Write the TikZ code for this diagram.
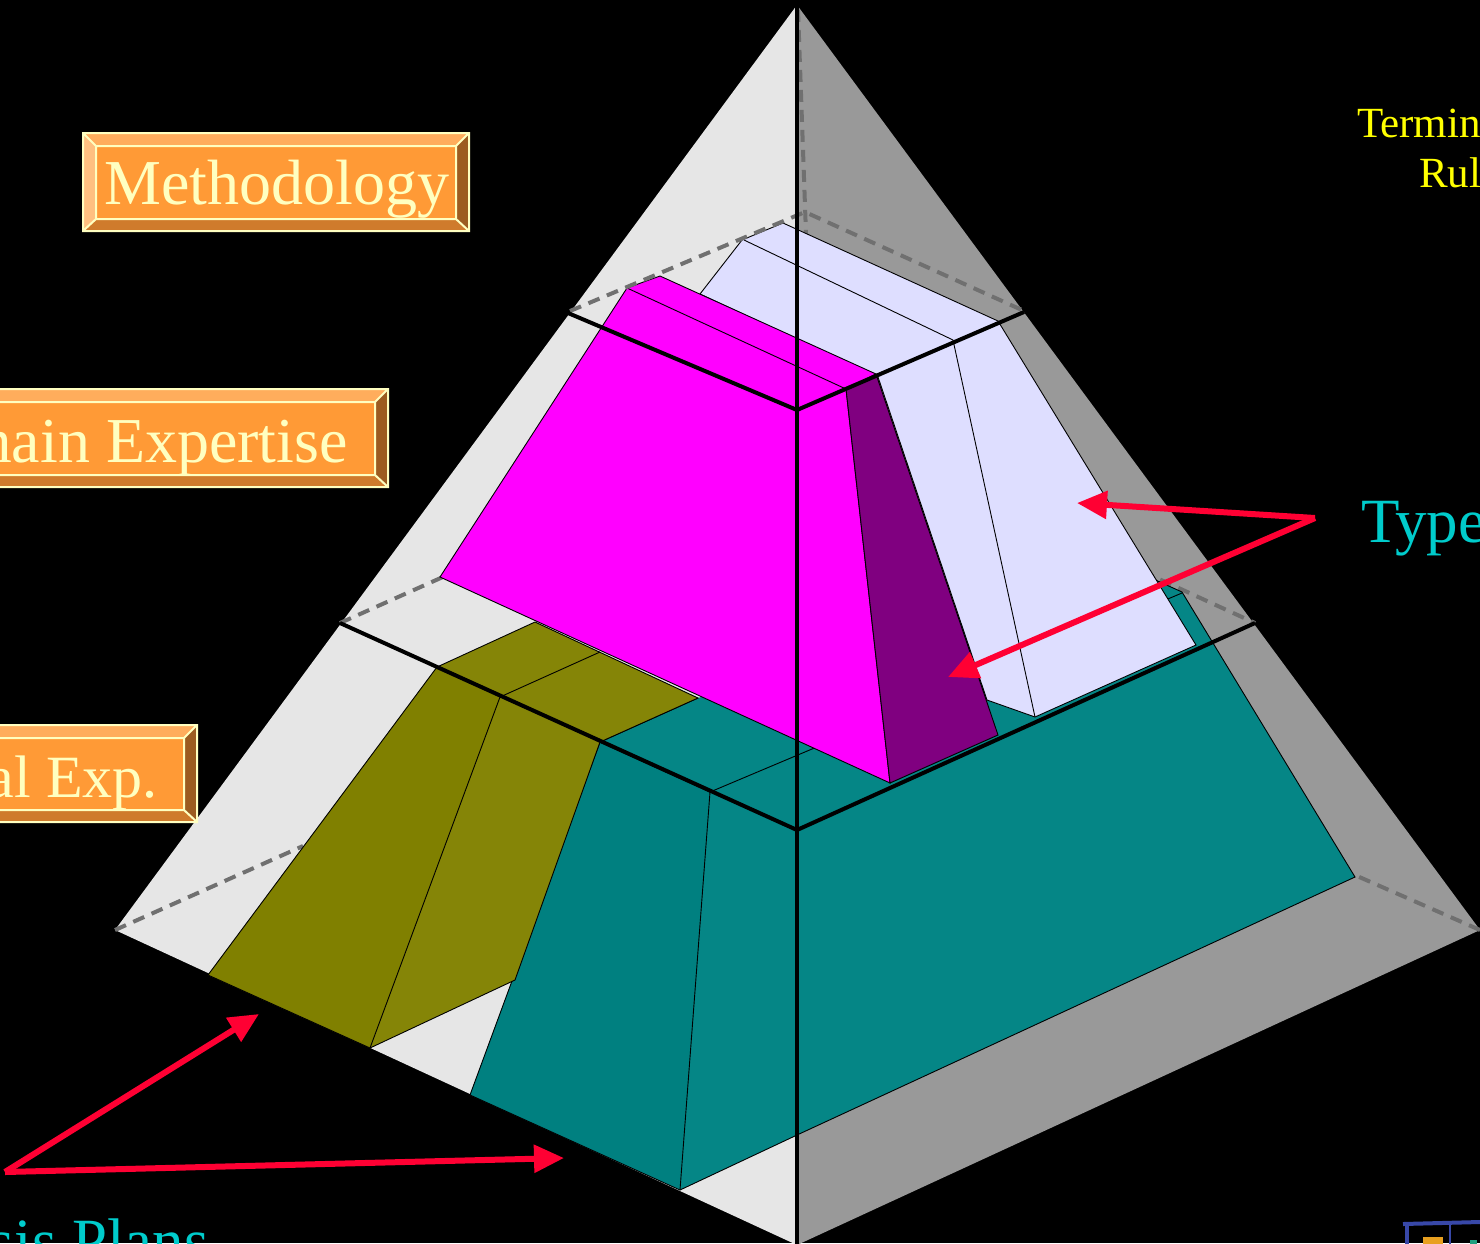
\documentclass[tikz,border=0pt]{standalone}
\usepackage{fontspec}
\setmainfont{Liberation Serif}
\usetikzlibrary{arrows.meta}
\definecolor{lface}{HTML}{E6E6E6}
\definecolor{rface}{HTML}{999999}
\definecolor{lav}{HTML}{DEDEFF}
\definecolor{mag}{HTML}{FF00FF}
\definecolor{pur}{HTML}{800080}
\definecolor{oli}{HTML}{808000}
\definecolor{olid}{HTML}{858507}
\definecolor{teala}{HTML}{008080}
\definecolor{teald}{HTML}{058686}
\definecolor{dashg}{HTML}{707070}
\definecolor{arrred}{HTML}{FF0033}
\definecolor{orface}{HTML}{FF9A36}
\definecolor{ortop}{HTML}{FFAD5C}
\definecolor{orleft}{HTML}{FFC080}
\definecolor{orright}{HTML}{9C5C20}
\definecolor{orbot}{HTML}{CF7B2C}
\definecolor{cream}{HTML}{FFFFC0}
\definecolor{cyantext}{HTML}{00CCCC}
\definecolor{yel}{HTML}{FFFF00}
\definecolor{logoblue}{HTML}{3848A8}
\definecolor{logoor}{HTML}{E8A020}
\definecolor{logotl}{HTML}{20A080}
\newcommand\bevelbox[4]{%
 \fill[ortop] (#1,#2) -- (#3,#2) -- ({#3-13},{#2+13}) -- ({#1+13},{#2+13}) -- cycle;
 \fill[orright] (#3,#2) -- (#3,#4) -- ({#3-13},{#4-12}) -- ({#3-13},{#2+13}) -- cycle;
 \fill[orbot] (#3,#4) -- (#1,#4) -- ({#1+13},{#4-12}) -- ({#3-13},{#4-12}) -- cycle;
 \fill[orleft] (#1,#4) -- (#1,#2) -- ({#1+13},{#2+13}) -- ({#1+13},{#4-12}) -- cycle;
 \fill[orface] ({#1+13},{#2+13}) rectangle ({#3-13},{#4-12});
 \draw[creamline] (#1,#2) rectangle (#3,#4) ({#1+13},{#2+13}) rectangle ({#3-13},{#4-12})
   (#1,#2) -- ++(13,13) (#3,#2) -- ++(-13,13) (#3,#4) -- ++(-13,-12) (#1,#4) -- ++(13,-12);
}
\begin{document}
\begin{tikzpicture}[x=1pt,y=-1pt,
  creamline/.style={draw=cream,line width=2pt},
  thin/.style={draw=black,line width=0.9pt},
  thickline/.style={draw=black,line width=4pt,line join=miter},
  hidden/.style={draw=dashg,line width=4pt,dash pattern=on 12pt off 8pt},
  redarrow/.style={draw=arrred,line width=6pt,-{Triangle[length=30pt,width=27pt]}},
  boxtext/.style={text=cream,font=\fontsize{64}{70}\selectfont,inner sep=0pt},
  cyanlabel/.style={text=cyantext,font=\fontsize{63}{70}\selectfont,inner sep=0pt},
  yellabel/.style={text=yel,font=\fontsize{43}{46}\selectfont,inner sep=0pt}]
\useasboundingbox (0,0) rectangle (1480,1243);
\clip (0,0) rectangle (1480,1243);
\fill[black] (0,0) rectangle (1480,1243);

% pyramid faces
\coordinate (apex) at (797,5);
\coordinate (bl) at (115,930);
\coordinate (bf) at (797,1245);
\coordinate (br) at (1480,930);
\fill[lface] (apex) -- (bl) -- (bf) -- cycle;
\fill[rface] (apex) -- (bf) -- (br) -- cycle;

% hidden edges
\draw[hidden] (798,10) -- (806,234);
\draw[hidden] (bl) -- (303,846);
\draw[hidden] (br) -- (1357,876);
\draw[hidden] (340,623) -- (803,416) -- (1255,623);

% teal block
\fill[teald] (470,1095) -- (600,742) -- (698,698) -- (1120,564) -- (1182,592) -- (1355,877) -- (797,1135) -- (680,1190) -- cycle;
\fill[teala] (600,742) -- (710,792) -- (680,1190) -- (470,1095) -- cycle;
\draw[thin] (698,698) -- (600,742) -- (470,1095) -- (680,1190) -- (797,1135) -- (1355,877) -- (1182,592) -- (1120,564);
\draw[thin] (600,742) -- (710,792) -- (680,1190);
\draw[thin] (710,792) -- (1182,593);

% olive block
\fill[olid] (208,975) -- (437,667) -- (535,622) -- (698,698) -- (600,742) -- (515,980) -- (370,1048) -- cycle;
\fill[oli] (437,667) -- (500,697) -- (370,1048) -- (208,975) -- cycle;
\draw[thin] (208,975) -- (437,667) -- (535,622) -- (698,698) -- (600,742) -- (515,980) -- (370,1048) -- cycle;
\draw[thin] (600,652) -- (500,697) -- (370,1048);

% lavender block
\fill[lav] (742,240) -- (783,223) -- (998,321) -- (1196,645) -- (1035,717) -- (987,700) -- (878,377) -- (700,294) -- cycle;
\draw[thin] (742,240) -- (783,223) -- (998,321) -- (1196,645) -- (1035,717) -- (987,700) -- (878,377) -- (700,294) -- cycle;
\draw[thin] (744,240) -- (953,340) -- (1035,717);

% magenta block
\fill[mag] (627,288) -- (660,276) -- (876,374) -- (846,389) -- (890,783) -- (440,577) -- cycle;
\draw[thin] (627,288) -- (660,276) -- (876,374) -- (846,389) -- (890,783) -- (440,577) -- cycle;
\draw[thin] (627,288) -- (846,389);

% purple face
\fill[pur] (846,389) -- (876,374) -- (998,735) -- (890,783) -- cycle;
\draw[thin] (846,389) -- (876,374) -- (998,735) -- (890,783) -- cycle;

% level 1 hidden back
\draw[hidden] (570,311) -- (805,212) -- (1022,310);

% visible layer lines and front edge
\draw[thickline] (568,313) -- (797,410) -- (1024,312);
\draw[thickline] (340,623) -- (797,830) -- (1255,623);
\draw[draw=black,line width=3.5pt] (apex) -- (bf);

% orange boxes
\bevelbox{83}{133}{469}{231}
\bevelbox{-30}{389}{388}{487}
\bevelbox{-30}{725}{197}{822}
\node[boxtext,anchor=base west] (meth) at (104,204) {Methodology};
\node[boxtext,anchor=base east] (dom) at (348,462) {Domain Expertise};
\node[boxtext,anchor=base east,font=\fontsize{60}{66}\selectfont] (tech) at (158,797) {Technical Exp.};

% right labels
\node[yellabel,anchor=base west] (term) at (1357,137) {Terminology};
\node[yellabel,anchor=base west] (rules) at (1419,187) {Rules};
\node[cyanlabel,anchor=base west] (types) at (1361,542) {Types};
\node[cyanlabel,anchor=base east] (plans) at (209,1262) {Analysis Plans};

% arrows
\coordinate (tsrc) at (1315,518);
\coordinate (ta) at (1077,503);
\coordinate (tb) at (948,677);
\draw[redarrow] (tsrc) -- (ta);
\draw[redarrow] (tsrc) -- (tb);
\coordinate (psrc) at (5,1172);
\coordinate (pa) at (259,1014);
\coordinate (pb) at (564,1158);
\draw[redarrow] (psrc) -- (pa);
\draw[redarrow] (psrc) -- (pb);

% logo fragment
\draw[draw=logoblue,line width=4pt] (1403,1224) -- (1480,1222);
\draw[draw=logoblue,line width=4pt] (1407,1224) -- (1407,1245);
\draw[draw=logoblue,line width=2pt] (1450,1222) -- (1450,1245);
\fill[logoor] (1423,1237) rectangle (1443,1245);
\fill[logotl] (1470,1240) rectangle (1477,1245);
\end{tikzpicture}
\end{document}
